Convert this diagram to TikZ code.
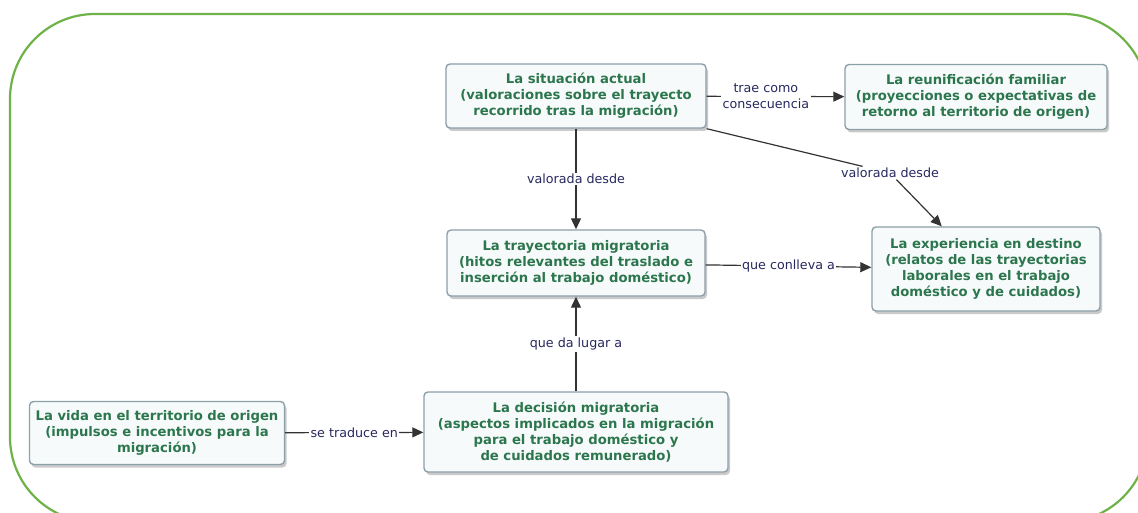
\documentclass[tikz,border=0pt]{standalone}
\usepackage{fontspec}
\setmainfont{DejaVu Sans}
\usetikzlibrary{arrows.meta,shadows}
\definecolor{marco}{RGB}{110,178,72}
\definecolor{textoverde}{RGB}{44,118,78}
\definecolor{etiqueta}{RGB}{40,40,96}
\definecolor{borde}{RGB}{140,160,170}
\definecolor{fondo}{RGB}{247,250,250}

\tikzset{
	caja/.style={draw=borde, line width=1.4pt, fill=fondo, rounded corners=4pt, align=center,
		text=textoverde, font=\fontsize{13.2}{16}\selectfont\bfseries,
		drop shadow={shadow xshift=2pt, shadow yshift=-3pt, fill=black!35, opacity=0.6}},
	rel/.style={text=etiqueta, font=\fontsize{12.7}{16}\selectfont, fill=white, inner sep=1.5pt, align=center},
	flecha/.style={draw=black!80, line width=1.2pt, -{Triangle[length=11pt,width=10pt]}}
}

\begin{document}
\begin{tikzpicture}[x=1pt,y=-1pt]
	\useasboundingbox (0,0) rectangle (1138,513);
	\begin{scope}
		\clip (0,0) rectangle (1138,513);
		\draw[marco, line width=2.2pt, rounded corners=85pt] (10,14) rectangle (1148,522);
	\end{scope}

	\node[caja, minimum width=260pt, minimum height=64pt] (situacion) at (576,96) {La situación actual\\(valoraciones sobre el trayecto\\recorrido tras la migración)};
	\node[caja, minimum width=262pt, minimum height=65pt] (reunificacion) at (976,97) {La reunificación familiar\\(proyecciones o expectativas de\\retorno al territorio de origen)};
	\node[caja, minimum width=258pt, minimum height=66pt] (trayectoria) at (576,263) {La trayectoria migratoria\\(hitos relevantes del traslado e\\inserción al trabajo doméstico)};
	\node[caja, minimum width=228pt, minimum height=84pt] (experiencia) at (986,269) {La experiencia en destino\\(relatos de las trayectorias\\laborales en el trabajo\\doméstico y de cuidados)};
	\node[caja, minimum width=255pt, minimum height=63pt] (vida) at (157,433) {La vida en el territorio de origen\\(impulsos e incentivos para la\\migración)};
	\node[caja, minimum width=304pt, minimum height=80pt] (decision) at (576,432) {La decisión migratoria\\(aspectos implicados en la migración\\para el trabajo doméstico y\\de cuidados remunerado)};

	\draw[flecha] (situacion) -- node[rel, pos=0.43] {trae como\\consecuencia} (reunificacion);
	\draw[flecha] (situacion) -- node[rel] {valorada desde} (trayectoria);
	\node[rel] (valorada) at (890,173) {valorada desde};
	\draw[draw=black!80, line width=1.2pt] (situacion.south east) -- (valorada);
	\draw[flecha] (valorada) -- (experiencia.136);
	\draw[flecha] (trayectoria) -- node[rel] {que conlleva a} (experiencia);
	\draw[flecha] (decision) -- node[rel] {que da lugar a} (trayectoria);
	\draw[flecha] (vida) -- node[rel] {se traduce en} (decision);
\end{tikzpicture}
\end{document}
